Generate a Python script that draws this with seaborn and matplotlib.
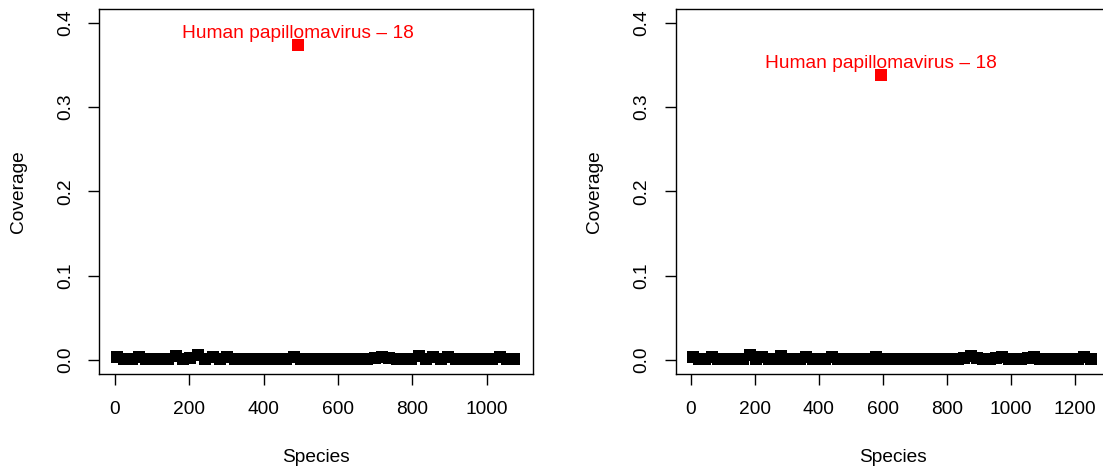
import numpy as np
import pandas as pd
import matplotlib
matplotlib.use("Agg")
import matplotlib.pyplot as plt
import seaborn as sns

# ---------------- data ----------------
label_text = "Human papillomavirus \u2013 18"

# left panel
left_species = np.linspace(5, 1075, 55)
left_coverage = [0.003, 0.0015, 0.0015, 0.003, 0.0015, 0.0015, 0.0015, 0.0015, 0.005, 0.0015,
                 0.002, 0.006, 0.0015, 0.003, 0.0015, 0.004, 0.0015, 0.0015, 0.0015, 0.0015,
                 0.0015, 0.0015, 0.0015, 0.0015, 0.003, 0.0015, 0.0015, 0.0015, 0.0015, 0.0015,
                 0.0015, 0.0015, 0.0015, 0.0015, 0.0015, 0.002, 0.004, 0.002, 0.0015, 0.0015,
                 0.0015, 0.005, 0.0015, 0.003, 0.0015, 0.003, 0.0015, 0.0015, 0.0015, 0.0015,
                 0.0015, 0.0015, 0.004, 0.0015, 0.0015]
left_hit_species = 492
left_hit_coverage = 0.374

# right panel
right_species = np.linspace(6, 1249, 64)
right_coverage = [0.003, 0.0015, 0.0015, 0.003, 0.0015, 0.0015, 0.0015, 0.0015, 0.0015, 0.006,
                  0.0015, 0.003, 0.0015, 0.0015, 0.005, 0.0015, 0.0015, 0.0015, 0.003, 0.0015,
                  0.0015, 0.0015, 0.003, 0.0015, 0.0015, 0.0015, 0.0015, 0.0015, 0.0015, 0.003,
                  0.0015, 0.0015, 0.0015, 0.0015, 0.0015, 0.0015, 0.0015, 0.0015, 0.0015, 0.0015,
                  0.0015, 0.0015, 0.0015, 0.002, 0.005, 0.002, 0.0015, 0.0015, 0.002, 0.004,
                  0.0015, 0.0015, 0.0015, 0.002, 0.004, 0.0015, 0.0015, 0.0015, 0.0015, 0.0015,
                  0.0015, 0.0015, 0.003, 0.0015]
right_hit_species = 594
right_hit_coverage = 0.338

y_ticks = [0.0, 0.1, 0.2, 0.3, 0.4]
y_tick_labels = ["0.0", "0.1", "0.2", "0.3", "0.4"]
left_x_ticks = [0, 200, 400, 600, 800, 1000]
right_x_ticks = [0, 200, 400, 600, 800, 1000, 1200]

# ---------------- style ----------------
sns.set_theme(style="white")
plt.rcParams['font.family'] = ['Liberation Sans', 'DejaVu Sans']
FS = 13.8

W, H = 1103, 468
fig = plt.figure(figsize=(W / 100, H / 100), dpi=100)

panels = [
    dict(rect=[99 / W, 94.5 / H, 434 / W, 364.3 / H], xlim=(-43, 1125),
         sp=left_species, cov=left_coverage, hx=left_hit_species, hy=left_hit_coverage,
         xt=left_x_ticks),
    dict(rect=[675.7 / W, 94.5 / H, 434 / W, 364.3 / H], xlim=(-47, 1308),
         sp=right_species, cov=right_coverage, hx=right_hit_species, hy=right_hit_coverage,
         xt=right_x_ticks),
]

for p in panels:
    ax = fig.add_axes(p["rect"])
    df = pd.DataFrame({"Species": p["sp"], "Coverage": p["cov"]})
    sns.scatterplot(data=df, x="Species", y="Coverage", marker="s", s=72,
                    color="black", linewidth=0, ax=ax, clip_on=False)
    hit = pd.DataFrame({"Species": [p["hx"]], "Coverage": [p["hy"]]})
    sns.scatterplot(data=hit, x="Species", y="Coverage", marker="s", s=72,
                    color="#ff0000", linewidth=0, ax=ax, zorder=5)
    ax.annotate(label_text, xy=(p["hx"], p["hy"]), xytext=(0, 4.8),
                textcoords="offset points", ha="center", va="baseline",
                color="#ff0000", fontsize=FS)
    ax.set_xlim(*p["xlim"])
    ax.set_ylim(-0.016, 0.416)
    ax.set_xticks(p["xt"])
    ax.set_xticklabels([str(t) for t in p["xt"]])
    ax.set_yticks(y_ticks)
    ax.set_yticklabels(y_tick_labels, rotation=90, va="center")
    ax.tick_params(axis="both", direction="out", length=8, width=1.0, color="black",
                   labelsize=FS, labelcolor="black", pad=10)
    ax.tick_params(axis="x", pad=11.5)
    ax.tick_params(left=True, bottom=True)
    for s in ax.spines.values():
        s.set_visible(True)
        s.set_color("black")
        s.set_linewidth(1.0)
    ax.set_xlabel("Species", fontsize=FS, color="black")
    ax.set_ylabel("Coverage", fontsize=FS, color="black")
    ax.xaxis.set_label_coords(0.5, -0.208)
    ax.yaxis.set_label_coords(-0.167, 0.5)
    ax.grid(False)
    ax.set_facecolor("white")

fig.savefig("out.png", dpi=100, facecolor="white")
